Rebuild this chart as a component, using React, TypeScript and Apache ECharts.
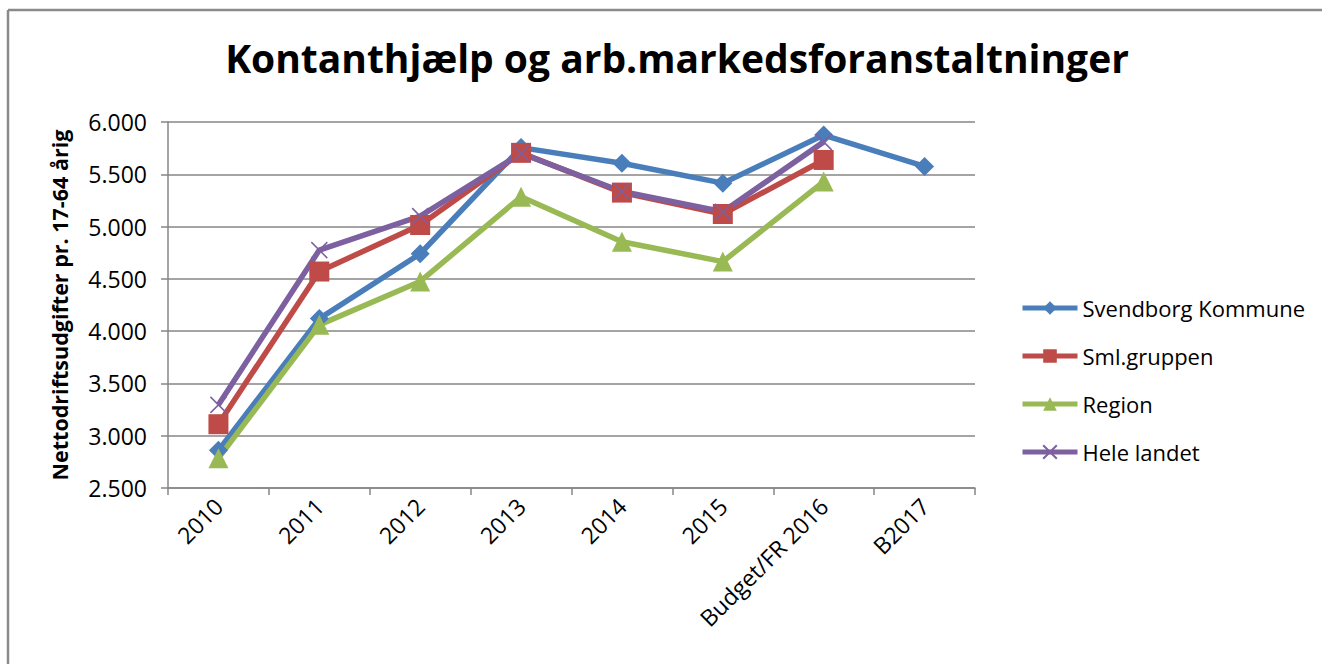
import React, { useEffect, useRef } from "react";
import * as echarts from "echarts";

const categories = ["2010", "2011", "2012", "2013", "2014", "2015", "Budget/FR 2016", "B2017"];
const svendborg = [2860, 4120, 4740, 5755, 5605, 5415, 5875, 5575];
const smlGruppen = [3110, 4570, 5015, 5705, 5325, 5120, 5637, null];
const region = [2785, 4060, 4475, 5285, 4855, 4665, 5430, null];
const heleLandet = [3295, 4775, 5100, 5700, 5335, 5142, 5810, null];

const seriesNames = ["Svendborg Kommune", "Sml.gruppen", "Region", "Hele landet"];
const yTicks = { min: 2500, max: 6000, interval: 500 };

const FONT = "'Open Sans', 'Noto Sans', sans-serif";

export default function App() {
  const ref = useRef<HTMLDivElement>(null);
  useEffect(() => {
    if (!ref.current) return;
    const chart = echarts.init(ref.current, null, { renderer: "svg" });
    const crossPath = "path://M0,0L10,10M10,0L0,10";
    const mk = (name: string, data: (number | null)[], color: string, symbol: string, size: number, extra: any = {}) => ({
      name,
      type: "line",
      data,
      symbol,
      symbolSize: size,
      lineStyle: { color, width: 5.5 },
      itemStyle: { color, ...extra },
      connectNulls: false,
    });
    chart.setOption({
      animation: false,
      textStyle: { fontFamily: FONT },
      title: {
        text: "Kontanthjælp og arb.markedsforanstaltninger",
        left: 672,
        textAlign: "center",
        top: 33,
        textStyle: { fontFamily: FONT, fontWeight: "bold", fontSize: 39, color: "#000" },
      },
      graphic: [
        { type: "line", shape: { x1: 8, y1: 10, x2: 1322, y2: 10 }, style: { stroke: "#8a8a8a", lineWidth: 2.5 } },
        { type: "line", shape: { x1: 8, y1: 10, x2: 8, y2: 664 }, style: { stroke: "#8a8a8a", lineWidth: 2.5 } },
      ],
      legend: {
        orient: "vertical",
        left: 1015,
        top: 292,
        itemWidth: 55,
        itemHeight: 17,
        itemGap: 26,
        data: seriesNames,
        lineStyle: { width: 5 },
        textStyle: { fontFamily: FONT, fontSize: 22, color: "#000" },
      },
      grid: { left: 168, right: 347, top: 122, bottom: 176, containLabel: false },
      xAxis: {
        type: "category",
        data: categories,
        boundaryGap: true,
        axisLine: { lineStyle: { color: "#868686", width: 1.5 } },
        axisTick: { show: true, length: 7, lineStyle: { color: "#868686", width: 1.5 } },
        axisLabel: { rotate: 45, margin: 14, fontSize: 23, color: "#000", fontFamily: FONT, interval: 0 },
      },
      yAxis: {
        type: "value",
        min: yTicks.min,
        max: yTicks.max,
        interval: yTicks.interval,
        name: "Nettodriftsudgifter pr. 17-64 årig",
        nameLocation: "middle",
        nameGap: 98,
        nameTextStyle: { fontFamily: FONT, fontWeight: "bold", fontSize: 21.5, color: "#000" },
        axisLine: { show: true, lineStyle: { color: "#868686", width: 1.5 } },
        axisTick: { show: true, length: 7, lineStyle: { color: "#868686", width: 1.5 } },
        splitLine: { lineStyle: { color: "#868686", width: 1.5 } },
        axisLabel: {
          fontSize: 23,
          color: "#000",
          fontFamily: FONT,
          margin: 21,
          formatter: (v: number) => {
            const s = String(Math.round(v));
            return s.replace(/\B(?=(\d{3})+(?!\d))/g, ".");
          },
        },
      },
      series: [
        mk(seriesNames[0], svendborg, "#4a7ebb", "diamond", 19),
        mk(seriesNames[1], smlGruppen, "#be4b48", "rect", 20),
        mk(seriesNames[2], region, "#98b954", "triangle", 20),
        mk(seriesNames[3], heleLandet, "#7d60a0", crossPath, 16, { borderColor: "#7d60a0", borderWidth: 1.5, color: "none" }),
      ],
    });
    return () => chart.dispose();
  }, []);
  return <div ref={ref} style={{ position: "absolute", left: 0, top: 0, width: 1322, height: 664, background: "#fff" }} />;
}
